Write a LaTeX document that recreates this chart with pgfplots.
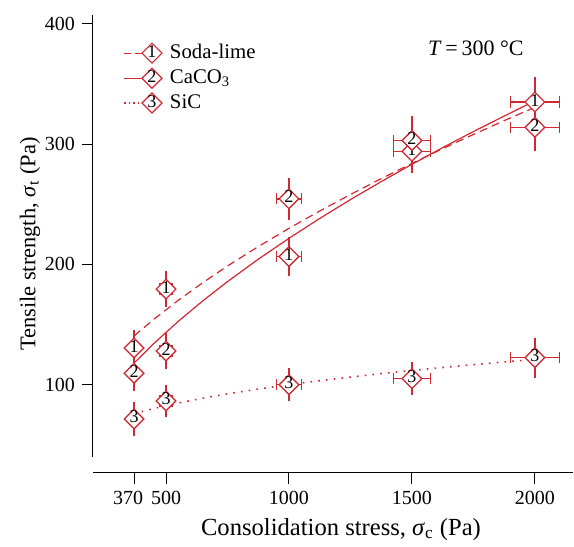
\documentclass[border=0pt]{standalone}
\usepackage{pgfplots}
\usepackage{pgfplotstable}
\pgfplotsset{compat=1.18}
\usetikzlibrary{shapes.geometric}
\usepackage{fontspec}
\IfFontExistsTF{LiberationSerif-Regular.ttf}{%
  \setmainfont{LiberationSerif}[Extension=.ttf, UprightFont=*-Regular, ItalicFont=*-Italic, BoldFont=*-Bold, BoldItalicFont=*-BoldItalic]%
}{%
  \setmainfont{Liberation Serif}%
}
\definecolor{myred}{RGB}{210,40,50}

\pgfplotstableread{
x y ex ey
370 130.5 18.5 10
500 179.5 25 10.5
1000 206.5 50 11.5
1500 294 75 13
2000 335 100 16.5
}\soda
\pgfplotstableread{
x y ex ey
370 109.5 18.5 10
500 128 25 10
1000 254.5 50 13
1500 303 75 16
2000 314 100 15
}\caco
\pgfplotstableread{
x y ex ey
370 71.5 18.5 9.5
500 86.5 25 9
1000 100 50 9
1500 105 75 9
2000 122.5 100 12
}\sic

\pgfplotsset{
  errx/.style={only marks, mark=none, forget plot, on layer=axis background,
    error bars/.cd, x dir=both, x explicit,
    error bar style={myred, line width=0.7pt, solid},
    error mark=|, error mark options={myred, mark size=2.8pt, line width=0.7pt, solid}},
  erry/.style={only marks, mark=none, forget plot, on layer=axis background,
    error bars/.cd, y dir=both, y explicit,
    error bar style={myred, line width=0.7pt, solid},
    error mark=-, error mark options={myred, mark size=2.8pt, line width=0.7pt, solid}},
  markerseries/.style={only marks, mark=square*, mark size=3.4pt,
    on layer=axis foreground,
    mark options={rotate=45, draw=myred, fill=white, line width=0.6pt, solid},
    nodes near coords={#1},
    every node near coord/.append style={anchor=center, shape=diamond, aspect=1,
      draw=myred, fill=white, line width=0.6pt, solid,
      minimum width=10pt, minimum height=10pt, inner sep=0pt,
      text height=4pt, text depth=0pt,
      text=black, font=\fontsize{9}{9}\selectfont},
    forget plot},
  legdiamond/.style 2 args={legend image code/.code={
    \draw[myred, line width=0.6pt, #1] (0pt,0pt) -- (9pt,0pt);
    \draw[myred, fill=white, line width=0.6pt, solid] (9pt,0pt) -- (14pt,5pt) -- (19pt,0pt) -- (14pt,-5pt) -- cycle;
    \node[anchor=center, inner sep=0pt, text=black, font=\fontsize{9}{9}\selectfont] at (14pt,0pt) {#2};
    \path[draw=none, fill=none] (0pt,0pt) -- (21pt,0pt);}}
}

\begin{document}
\begin{tikzpicture}
\begin{axis}[
  set layers,
  scale only axis, width=240pt, height=228.8pt,
  xmin=203, xmax=2155, ymin=26.6, ymax=407,
  clip=false,
  axis x line*=bottom, axis y line*=left,
  y axis line style={draw=none},
  x axis line style={line width=0.5pt},
  xtick={370,500,1000,1500,2000},
  xticklabels={\makebox[0pt]{\hspace{-6pt}370},500,1000,1500,2000},
  ytick={100,200,300,400},
  tick align=outside, major tick length=5.5pt,
  tick style={black, line width=0.5pt},
  /pgf/number format/assume math mode=true,
  /pgf/number format/1000 sep={},
  tick label style={font=\fontsize{10}{12}\selectfont},
  xlabel style={font=\fontsize{12.3}{14}\selectfont, xshift=4pt},
  ylabel style={font=\fontsize{11.2}{13}\selectfont, yshift=-4.5pt},
  xlabel={Consolidation stress, \textit{σ}\textsubscript{c} (Pa)},
  ylabel={Tensile strength, \textit{σ}\textsubscript{t} (Pa)},
  legend style={at={(0.05,0.955)}, anchor=north west, draw=none, fill=none,
    font=\fontsize{10.4}{12}\selectfont, row sep=0pt},
  legend cell align=left,
]
% fitted curves
\addplot[myred, line width=0.6pt, dash pattern=on 4pt off 2.5pt, forget plot] coordinates {
(370,140.5) (450,154.3) (550,170.2) (650,184.9) (750,198.7) (875,214.8) (1000,230.0)
(1125,244.4) (1250,258.1) (1375,271.3) (1500,284.0) (1625,296.2) (1750,308.0) (1875,319.5) (2000,330.6)};
\addplot[myred, line width=0.6pt, forget plot] coordinates {
(370,118.0) (450,134.2) (550,152.7) (650,169.8) (750,185.7) (875,204.3) (1000,221.7)
(1125,238.2) (1250,253.9) (1375,268.8) (1500,283.2) (1625,297.1) (1750,310.4) (1875,323.3) (2000,335.9)};
\addplot[myred, line width=0.8pt, dash pattern=on 0.8pt off 3.1pt, forget plot] coordinates {
(370,76.0) (450,80.2) (550,84.8) (650,88.8) (750,92.4) (875,96.4) (1000,100.0)
(1125,103.3) (1250,106.3) (1375,109.2) (1500,111.8) (1625,114.3) (1750,116.7) (1875,118.9) (2000,121.0)};
% error bars first
\addplot[errx] table[x=x, y=y, x error=ex] {\soda};
\addplot[erry] table[x=x, y=y, y error=ey] {\soda};
\addplot[errx] table[x=x, y=y, x error=ex] {\caco};
\addplot[erry] table[x=x, y=y, y error=ey] {\caco};
\addplot[errx] table[x=x, y=y, x error=ex] {\sic};
\addplot[erry] table[x=x, y=y, y error=ey] {\sic};
% markers on top
\addplot[markerseries=1] table[x=x, y=y] {\soda};
\addplot[markerseries=2] table[x=x, y=y] {\caco};
\addplot[markerseries=3] table[x=x, y=y] {\sic};
% legend
\addlegendimage{legdiamond={dash pattern=on 3.3pt off 2.4pt}{1}}
\addlegendentry{Soda-lime}
\addlegendimage{legdiamond={solid}{2}}
\addlegendentry{CaCO\textsubscript{3}}
\addlegendimage{legdiamond={dash pattern=on 0.8pt off 1.5pt}{3}}
\addlegendentry{SiC}
% axis spine and annotation
\draw[black, line width=0.5pt] (axis cs:203,40) -- (axis cs:203,407);
\node[font=\fontsize{11}{12}\selectfont] at (axis cs:1760,380) {\textit{T}\,=\,300 °C};
\coordinate (BL) at (rel axis cs:0,0);
\end{axis}
\pgfresetboundingbox
\path ([shift={(-46.5pt,-37pt)}]BL) rectangle ([shift={(240.5pt,236.5pt)}]BL);
\end{tikzpicture}
\end{document}
